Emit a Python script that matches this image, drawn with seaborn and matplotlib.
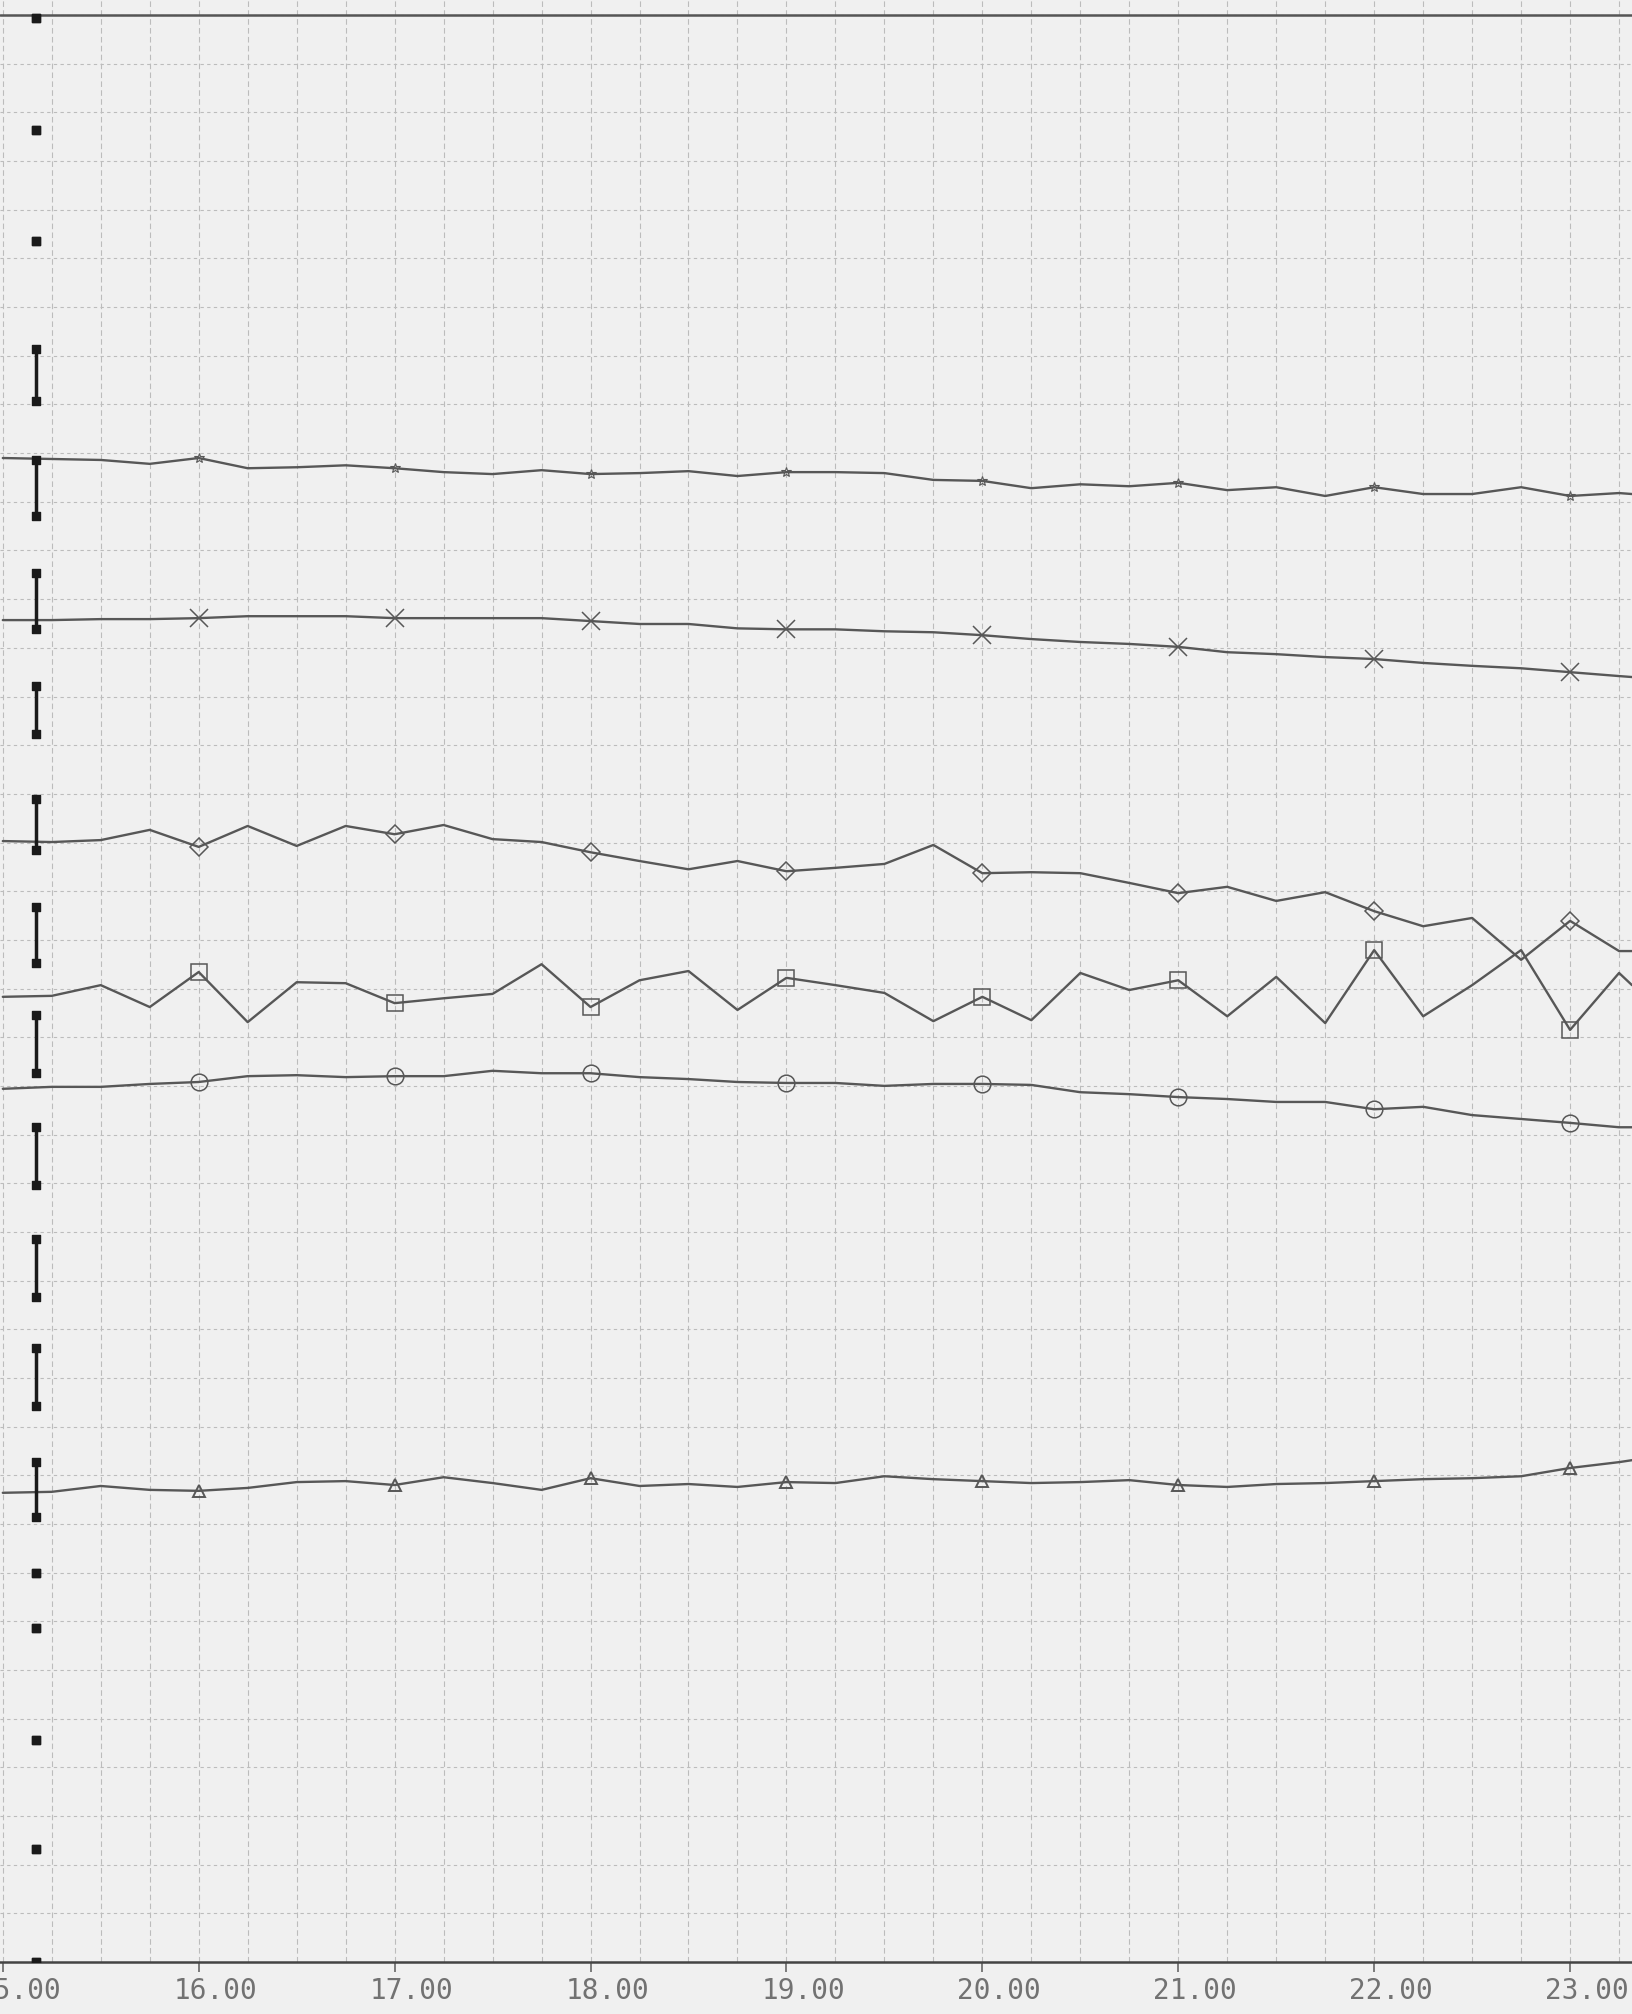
import numpy as np
import pandas as pd
import matplotlib
matplotlib.use("Agg")
import matplotlib.pyplot as plt
import seaborn as sns
from matplotlib.ticker import MultipleLocator
from matplotlib.transforms import ScaledTranslation

# time axis: quarter-hour samples, last entry is the reading at the right edge of the strip
hours = [15.0, 15.25, 15.5, 15.75, 16.0, 16.25, 16.5, 16.75, 17.0, 17.25, 17.5, 17.75,
         18.0, 18.25, 18.5, 18.75, 19.0, 19.25, 19.5, 19.75, 20.0, 20.25, 20.5, 20.75,
         21.0, 21.25, 21.5, 21.75, 22.0, 22.25, 22.5, 22.75, 23.0, 23.25, 23.316]
hour_ticks = [15, 16, 17, 18, 19, 20, 21, 22, 23]
hour_labels = ["15.00", "16.00", "17.00", "18.00", "19.00", "20.00", "21.00", "22.00", "23.00"]

# pen positions in chart divisions (0 = bottom line, 40 = top line)
star = [30.90, 30.88, 30.86, 30.78, 30.90, 30.69, 30.71, 30.75, 30.69, 30.61, 30.57, 30.65,
        30.57, 30.59, 30.63, 30.53, 30.61, 30.61, 30.59, 30.45, 30.43, 30.28, 30.36, 30.32,
        30.39, 30.24, 30.30, 30.12, 30.30, 30.16, 30.16, 30.30, 30.12, 30.18, 30.16]
cross = [27.57, 27.57, 27.59, 27.59, 27.61, 27.65, 27.65, 27.65, 27.61, 27.61, 27.61, 27.61,
         27.55, 27.49, 27.49, 27.40, 27.38, 27.38, 27.34, 27.32, 27.26, 27.18, 27.12, 27.08,
         27.02, 26.91, 26.87, 26.81, 26.77, 26.69, 26.63, 26.58, 26.50, 26.42, 26.40]
diamond = [23.03, 23.01, 23.05, 23.26, 22.91, 23.34, 22.93, 23.34, 23.17, 23.36, 23.07, 23.01,
           22.80, 22.62, 22.45, 22.62, 22.41, 22.48, 22.56, 22.95, 22.37, 22.39, 22.37, 22.17,
           21.96, 22.09, 21.80, 21.98, 21.59, 21.28, 21.45, 20.59, 21.39, 20.77, 20.77]
square = [19.83, 19.85, 20.07, 19.62, 20.34, 19.31, 20.13, 20.11, 19.70, 19.80, 19.89, 20.50,
          19.62, 20.17, 20.36, 19.56, 20.22, 20.07, 19.91, 19.33, 19.83, 19.35, 20.32, 19.97,
          20.17, 19.43, 20.24, 19.29, 20.79, 19.43, 20.07, 20.79, 19.15, 20.32, 20.07]
circle = [17.94, 17.98, 17.98, 18.04, 18.08, 18.20, 18.22, 18.18, 18.20, 18.20, 18.31, 18.26,
          18.26, 18.18, 18.14, 18.08, 18.06, 18.06, 18.00, 18.04, 18.04, 18.02, 17.87, 17.83,
          17.77, 17.73, 17.67, 17.67, 17.52, 17.57, 17.40, 17.32, 17.24, 17.15, 17.15]
triangle = [9.64, 9.66, 9.78, 9.70, 9.68, 9.74, 9.86, 9.88, 9.80, 9.96, 9.84, 9.70,
            9.94, 9.78, 9.82, 9.76, 9.86, 9.84, 9.98, 9.92, 9.88, 9.84, 9.86, 9.90,
            9.80, 9.76, 9.82, 9.84, 9.88, 9.92, 9.94, 9.98, 10.15, 10.27, 10.31]

# event pen marks along the left margin
pen_x = 15.17
pen_top = [39.94, 37.64, 35.36, 33.14, 30.86, 28.54, 26.21, 23.89, 21.67, 19.46, 17.15,
           14.85, 12.61, 10.27, 7.99, 6.86, 4.56, 2.32, 0.0]
pen_bottom = [39.94, 37.64, 35.36, 32.07, 29.71, 27.39, 25.23, 22.85, 20.52, 18.26, 15.96,
              13.66, 11.42, 9.14, 7.99, 6.86, 4.56, 2.32, 0.0]

sns.set_theme(style="white")
plt.rcParams['font.family'] = ['DejaVu Sans Mono', 'DejaVu Sans']

paper = "#f0f0f0"
ink = "#575757"
grid_c = "#bcbcbc"

fig = plt.figure(figsize=(16.32, 20.14), dpi=100, facecolor=paper)
ax = fig.add_axes([0, 52 / 2014, 1, 1 - 52 / 2014])
ax.set_facecolor(paper)

ax.set_xlim(14.9857, 23.316)
ax.set_ylim(0, 40.31)

# chart paper grid
ax.xaxis.set_minor_locator(MultipleLocator(0.25))
ax.yaxis.set_major_locator(MultipleLocator(1))
ax.grid(which="minor", axis="x", color=grid_c, lw=0.8, ls=(0, (5, 3)))
ax.grid(which="major", axis="x", color=grid_c, lw=0.8, ls=(0, (5, 3)))
ax.grid(which="major", axis="y", color=grid_c, lw=0.8, ls=(0, (3, 3)))
ax.axhline(40, color="#555555", lw=1.8)

df = pd.DataFrame({"hour": hours, "star": star, "cross": cross, "diamond": diamond,
                   "square": square, "circle": circle, "triangle": triangle})

marks = list(range(4, 33, 4))  # one symbol per hour
styles = {
    "star": dict(marker="*", ms=7, mew=0.8),
    "cross": dict(marker="x", ms=13, mew=1.1),
    "diamond": dict(marker="D", ms=9, mew=1.1),
    "square": dict(marker="s", ms=12, mew=1.1),
    "circle": dict(marker="o", ms=12, mew=1.1),
    "triangle": dict(marker="^", ms=9, mew=1.4),
}
for col, st in styles.items():
    sns.lineplot(data=df, x="hour", y=col, ax=ax, color=ink, lw=1.7, sort=False,
                 markevery=marks, mfc="none", mec=ink, **st)

# pen marks on the left margin
ax.vlines([pen_x] * len(pen_top), pen_bottom, pen_top, color="#1a1a1a", lw=2.5)
ax.scatter([pen_x] * len(pen_top), pen_top, marker="s", s=40, color="#1a1a1a", zorder=5)
ax.scatter([pen_x] * len(pen_bottom), pen_bottom, marker="s", s=40, color="#1a1a1a", zorder=5)

# axes styling
for side in ["top", "left", "right"]:
    ax.spines[side].set_visible(False)
ax.spines["bottom"].set_color("#444444")
ax.spines["bottom"].set_linewidth(1.8)
ax.set_xticks(hour_ticks)
ax.set_xticklabels(hour_labels)
ax.set_yticks(range(0, 41))
ax.set_yticklabels([])
ax.tick_params(axis="y", length=0)
ax.tick_params(axis="x", which="major", direction="out", length=7, width=1.2,
               color="#666666", pad=4, labelsize=20, labelcolor="#727272", bottom=True)
ax.tick_params(axis="x", which="minor", length=0)
offset = ScaledTranslation(-0.25, 0, fig.dpi_scale_trans)
for lab in ax.get_xticklabels():
    lab.set_horizontalalignment("left")
    lab.set_transform(lab.get_transform() + offset)
ax.set_xlabel("")
ax.set_ylabel("")

fig.savefig("out.png", dpi=100, facecolor=paper)
